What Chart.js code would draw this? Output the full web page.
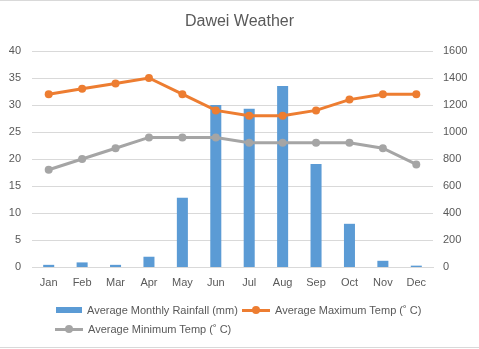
<!DOCTYPE html>
<html>
<head>
<meta charset="utf-8">
<script src="https://cdn.jsdelivr.net/npm/chart.js@4"></script>
<style>
  html, body { margin: 0; padding: 0; background: #fff; }
  #wrap { position: relative; width: 479px; height: 349px; overflow: hidden; }
  #wrap::before { content: ""; position: absolute; left: 0; right: 0; top: 0; border-top: 1px solid #d9d9d9; }
  #wrap::after { content: ""; position: absolute; left: 0; right: 0; top: 347px; border-top: 1px solid #d9d9d9; }
  canvas { position: absolute; left: 0; top: 0; }
  .legend { position: absolute; font: 11px "Liberation Sans", Arial, sans-serif; color: #595959; white-space: nowrap; }
  .item { position: absolute; display: flex; align-items: center; }
  .sw { display: inline-block; margin-right: 5px; position: relative; }
</style>
</head>
<body>
<div id="wrap">
  <canvas id="chart" width="479" height="349"></canvas>
  <div class="legend" id="legend"></div>
</div>
<script>
// Data
const months = ["Jan", "Feb", "Mar", "Apr", "May", "Jun", "Jul", "Aug", "Sep", "Oct", "Nov", "Dec"];
const rainfall = [16, 34, 16, 76, 513, 1200, 1172, 1341, 763, 320, 46, 10];
const maxTemp = [32, 33, 34, 35, 32, 29, 28, 28, 29, 31, 32, 32];
const minTemp = [18, 20, 22, 24, 24, 24, 23, 23, 23, 23, 22, 19];

const rainLabel = "Average Monthly Rainfall (mm)";
const maxLabel = "Average Maximum Temp (\u02DA C)";
const minLabel = "Average Minimum Temp (\u02DA C)";

const BLUE = "#5b9bd5";
const ORANGE = "#ed7d31";
const GREY = "#a5a5a5";
const TEXT = "#595959";
const GRID = "#d9d9d9";
const FONT = "'Liberation Sans', Arial, sans-serif";

Chart.defaults.font.family = FONT;
Chart.defaults.color = TEXT;

const ctx = document.getElementById("chart").getContext("2d");
const chart = new Chart(ctx, {
  data: {
    labels: months,
    datasets: [
      {
        type: "line",
        label: maxLabel,
        data: maxTemp,
        yAxisID: "y",
        borderColor: ORANGE,
        backgroundColor: ORANGE,
        borderWidth: 3,
        pointRadius: 4,
        pointBorderWidth: 0,
        tension: 0,
        order: 1,
      },
      {
        type: "line",
        label: minLabel,
        data: minTemp,
        yAxisID: "y",
        borderColor: GREY,
        backgroundColor: GREY,
        borderWidth: 3,
        pointRadius: 4,
        pointBorderWidth: 0,
        tension: 0,
        order: 2,
      },
      {
        type: "bar",
        label: rainLabel,
        data: rainfall,
        yAxisID: "y1",
        backgroundColor: BLUE,
        categoryPercentage: 1,
        barPercentage: 0.33,
        order: 3,
      },
    ],
  },
  options: {
    responsive: false,
    animation: false,
    layout: { padding: { left: 0, right: 0, top: 0, bottom: 57 } },
    plugins: {
      legend: { display: false },
      tooltip: { enabled: false },
      title: {
        display: true,
        text: "Dawei Weather",
        color: TEXT,
        font: { size: 16, weight: "normal" },
        padding: { top: 12, bottom: 19.8 },
      },
    },
    scales: {
      x: {
        grid: { display: false, drawTicks: false },
        border: { display: true, color: GRID },
        ticks: { padding: 9, font: { size: 11 }, color: TEXT },
        afterFit: (s) => { s.height = 25; },
      },
      y: {
        position: "left",
        min: 0,
        max: 40,
        ticks: { stepSize: 5, padding: 11, font: { size: 11 }, color: TEXT },
        grid: { color: GRID, drawTicks: false },
        border: { display: false },
        afterFit: (s) => { s.width = 32; },
      },
      y1: {
        position: "right",
        min: 0,
        max: 1600,
        ticks: {
          stepSize: 200,
          padding: 10,
          font: { size: 11 },
          color: TEXT,
          callback: (v) => String(v),
        },
        grid: { display: false, drawTicks: false },
        border: { display: false },
        afterFit: (s) => { s.width = 46; },
      },
    },
  },
});

// Legend (Excel style, two rows, left aligned)
const legendItems = [
  { label: rainLabel, color: BLUE, kind: "bar", x: 56, y: 304 },
  { label: maxLabel, color: ORANGE, kind: "line", x: 242, y: 304 },
  { label: minLabel, color: GREY, kind: "line", x: 55, y: 323 },
];
const legendEl = document.getElementById("legend");
legendItems.forEach((it) => {
  const item = document.createElement("div");
  item.className = "item";
  item.style.left = it.x + "px";
  item.style.top = it.y + "px";
  const sw = document.createElement("span");
  sw.className = "sw";
  if (it.kind === "bar") {
    sw.style.width = "26px";
    sw.style.height = "6px";
    sw.style.background = it.color;
  } else {
    sw.style.width = "28px";
    sw.style.height = "3px";
    sw.style.background = it.color;
    const dot = document.createElement("span");
    dot.style.cssText = `position:absolute;left:10px;top:-2.5px;width:8px;height:8px;border-radius:50%;background:${it.color}`;
    sw.appendChild(dot);
  }
  item.appendChild(sw);
  const txt = document.createElement("span");
  txt.textContent = it.label;
  item.appendChild(txt);
  legendEl.appendChild(item);
});
</script>
</body>
</html>
